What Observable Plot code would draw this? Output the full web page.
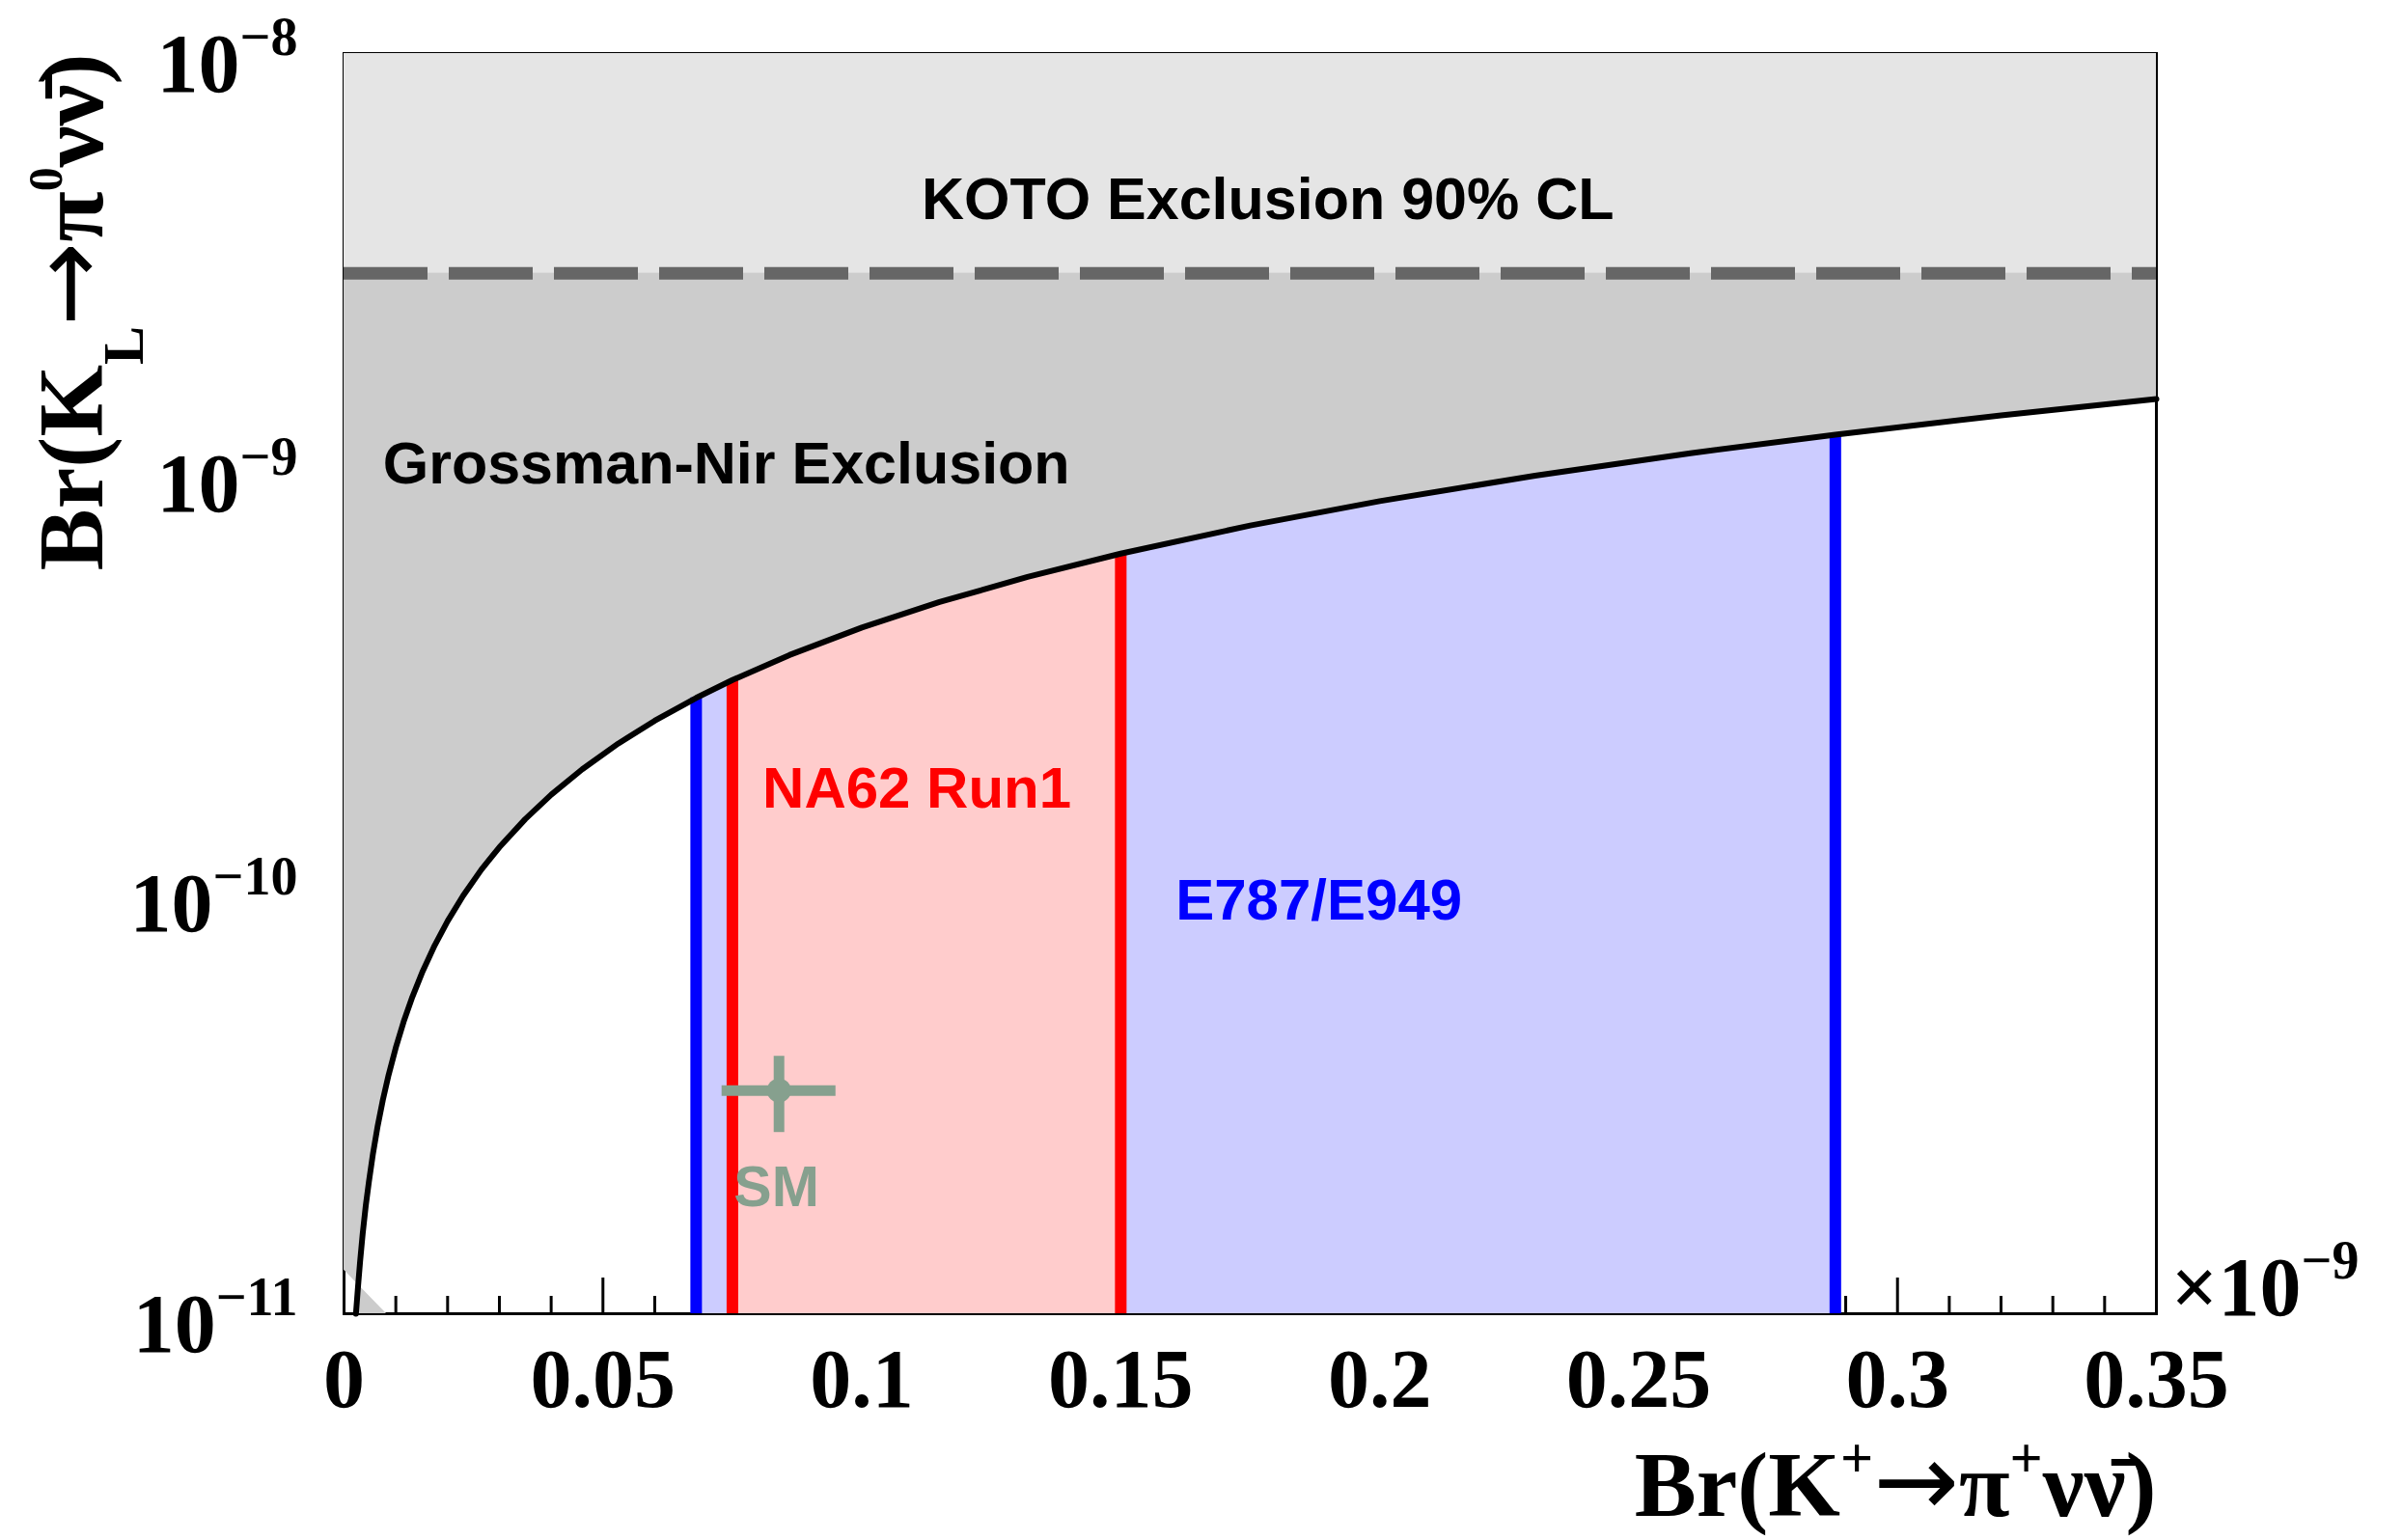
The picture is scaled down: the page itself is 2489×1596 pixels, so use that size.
<!DOCTYPE html>
<html>
<head>
<meta charset="utf-8">
<script src="https://cdn.jsdelivr.net/npm/d3@7"></script>
<script src="https://cdn.jsdelivr.net/npm/@observablehq/plot@0.6"></script>
<style>
  html, body { margin: 0; padding: 0; background: #fff; }
  svg { display: block; }
</style>
</head>
<body>
<div id="chart"></div>
<script>
// Both branching ratios in units of 1e-9.
const xDomain = [0, 0.35];
const yDomain = [0.01, 10];

// Grossman–Nir bound, Br(KL) vs Br(K+)
const curveX = [0.0023, 0.0027, 0.0031, 0.0036, 0.0042, 0.0048, 0.0056, 0.0065, 0.0075, 0.0086,
  0.01, 0.0115, 0.0132, 0.0152, 0.0175, 0.02, 0.023, 0.0265, 0.03, 0.035, 0.04, 0.046, 0.053,
  0.06, 0.068, 0.075, 0.086, 0.1, 0.115, 0.132, 0.15, 0.175, 0.2, 0.23, 0.26, 0.288, 0.32, 0.35];
const curveY = [0.0100, 0.0116, 0.0133, 0.0155, 0.0181, 0.0206, 0.0241, 0.0280, 0.0323, 0.0370,
  0.0430, 0.0495, 0.0568, 0.0654, 0.0753, 0.0860, 0.0989, 0.1140, 0.1290, 0.1505, 0.1720, 0.1978,
  0.2279, 0.2580, 0.2924, 0.3225, 0.3698, 0.4300, 0.4945, 0.5676, 0.6450, 0.7525, 0.8600, 0.9890,
  1.1180, 1.2384, 1.3760, 1.5050];

// closing edge of the excluded-region polygon near the origin
const gnClosureX = [0, 0.0082];
const gnClosureY = [0.0127, 0.01];

// KOTO 90% CL upper limit on Br(KL)
const kotoLimit = 3.0;

// Br(K+) intervals
const e787Edges = [0.068, 0.288];
const na62Edges = [0.075, 0.15];

// Standard Model prediction
const smX = [0.084];
const smY = [0.034];
const smXErr = [0.011];
const smYErr = [0.007];

// axis ticks and their labels
const xTickValues = [0, 0.05, 0.1, 0.15, 0.2, 0.25, 0.3, 0.35];
const xTickLabels = ["0", "0.05", "0.1", "0.15", "0.2", "0.25", "0.3", "0.35"];
const yTickValues = [0.01, 0.1, 1, 10];
const yTickLabels = ["10^{\u221211}", "10^{\u221210}", "10^{\u22129}", "10^{\u22128}"];
const yMinorTicks = [0.02, 0.03, 0.04, 0.05, 0.06, 0.07, 0.08, 0.09,
  0.2, 0.3, 0.4, 0.5, 0.6, 0.7, 0.8, 0.9, 2, 3, 4, 5, 6, 7, 8, 9];
const xMinorTicks = d3.range(1, 36).map(k => k / 100).filter(v => Math.round(v * 100) % 5 !== 0);

// axis titles and the x multiplier: ^{..} raised, _{..} lowered, ~{..} symbol glyph
const xTitle = "Br(K^{+}~{\u2192}\u03c0^{+}\u03bd\u03bd\u0304)";
const yTitle = "Br(K_{L}~{\u2192}\u03c0^{0}\u03bd\u03bd\u0304)";
const xMultiplier = "\u00d710^{\u22129}";

// ---------------------------------------------------------------------------
const W = 2489, H = 1596;
const M = {left: 356, right: 255, top: 55, bottom: 235};
const frameW = W - M.left - M.right;
const frameH = H - M.top - M.bottom;
const yBottom = yDomain[0], yTop = yDomain[1];

const serif = "'Liberation Serif', 'Times New Roman', Times, serif";
const sans = "'Liberation Sans', Arial, Helvetica, sans-serif";
const symbolFont = "'DejaVu Sans', sans-serif";
const smColor = "#86a08e";

const curveIdx = d3.range(curveX.length);
const topAt = x => curveY[curveX.indexOf(x)];
const between = ([a, b]) => curveIdx.filter(i => curveX[i] >= a && curveX[i] <= b);

// excluded region: forward along the bound, back along the top edge
const n = curveX.length;
const gnIdx = d3.range(n + 1);
const gnX1 = [gnClosureX[1], ...curveX];
const gnY1 = [gnClosureY[1], ...curveY];
const gnX2 = gnIdx.map(i => i === 0 ? gnClosureX[0] : i === n ? xDomain[1] : xDomain[0]);
const gnY2 = gnIdx.map(i => i === 0 ? gnClosureY[0] : yTop);

const smIdx = d3.range(smX.length);

const chart = Plot.plot({
  width: W,
  height: H,
  marginLeft: M.left,
  marginRight: M.right,
  marginTop: M.top,
  marginBottom: M.bottom,
  x: {domain: xDomain, axis: null},
  y: {type: "log", domain: yDomain, axis: null},
  style: {background: "white"},
  marks: [
    // inward ticks
    Plot.ruleX(xMinorTicks, {x: d => d, insetTop: frameH - 18, stroke: "black", strokeWidth: 3}),
    Plot.ruleX(xTickValues, {x: d => d, insetTop: frameH - 37, stroke: "black", strokeWidth: 3}),
    Plot.ruleY(yMinorTicks, {y: d => d, insetRight: frameW - 28, stroke: "black", strokeWidth: 3}),
    Plot.ruleY(yTickValues, {y: d => d, insetRight: frameW - 56, stroke: "black", strokeWidth: 3}),
    Plot.frame({stroke: "black", strokeWidth: 3}),

    // Grossman–Nir excluded region
    Plot.area(gnIdx, {
      x1: i => gnX1[i], y1: i => gnY1[i], x2: i => gnX2[i], y2: i => gnY2[i],
      fill: "#cccccc", curve: "linear"
    }),
    // KOTO excluded region
    Plot.rect([kotoLimit], {x1: xDomain[0], x2: xDomain[1], y1: d => d, y2: yTop, fill: "#e5e5e5"}),

    // allowed bands
    Plot.areaY(between(e787Edges), {x: i => curveX[i], y1: yBottom, y2: i => curveY[i], fill: "#ccccff", curve: "linear"}),
    Plot.areaY(between(na62Edges), {x: i => curveX[i], y1: yBottom, y2: i => curveY[i], fill: "#ffcccc", curve: "linear"}),
    Plot.ruleX(e787Edges, {x: d => d, y1: yBottom, y2: d => topAt(d), stroke: "#0000ff", strokeWidth: 12}),
    Plot.ruleX(na62Edges, {x: d => d, y1: yBottom, y2: d => topAt(d), stroke: "#ff0000", strokeWidth: 12}),

    // the bound itself
    Plot.line(curveIdx, {x: i => curveX[i], y: i => curveY[i], stroke: "black", strokeWidth: 6, curve: "linear"}),

    // KOTO limit
    Plot.ruleY([kotoLimit], {y: d => d, stroke: "#666666", strokeWidth: 13, strokeDasharray: "87 22"}),

    // region labels
    Plot.text(["KOTO Exclusion 90% CL"], {x: 0.1784, y: 4.03, textAnchor: "middle", lineAnchor: "bottom",
      fontSize: 61, fontFamily: sans, fontWeight: "bold", fill: "black"}),
    Plot.text(["Grossman-Nir Exclusion"], {x: 0.0075, y: 0.947, textAnchor: "start", lineAnchor: "bottom",
      fontSize: 61, fontFamily: sans, fontWeight: "bold", fill: "black"}),
    Plot.text(["NA62 Run1"], {x: 0.0808, y: 0.160, textAnchor: "start", lineAnchor: "bottom",
      fontSize: 60, fontFamily: sans, fontWeight: "bold", fill: "#ff0000"}),
    Plot.text(["E787/E949"], {x: 0.1606, y: 0.0867, textAnchor: "start", lineAnchor: "bottom",
      fontSize: 60, fontFamily: sans, fontWeight: "bold", fill: "#0000ff"}),

    // Standard Model point
    Plot.ruleY(smIdx, {y: i => smY[i], x1: i => smX[i] - smXErr[i], x2: i => smX[i] + smXErr[i], stroke: smColor, strokeWidth: 11}),
    Plot.ruleX(smIdx, {x: i => smX[i], y1: i => smY[i] - smYErr[i], y2: i => smY[i] + smYErr[i], stroke: smColor, strokeWidth: 11}),
    Plot.dot(smIdx, {x: i => smX[i], y: i => smY[i], r: 12.5, fill: smColor, stroke: "none"}),
    Plot.text(["SM"], {x: 0.0835, y: 0.018, textAnchor: "middle", lineAnchor: "bottom",
      fontSize: 59, fontFamily: sans, fontWeight: "bold", fill: smColor}),

    // tick labels
    Plot.text(xTickValues, {x: d => d, text: (d, i) => xTickLabels[i], frameAnchor: "bottom", lineAnchor: "top",
      dy: 35, fontSize: 86, fontFamily: serif, fontWeight: "bold", fill: "black"}),
    Plot.text(yTickValues, {y: d => d, text: (d, i) => yTickLabels[i], frameAnchor: "left", textAnchor: "end",
      lineAnchor: "bottom", dx: -48, dy: 39, fontSize: 86, fontFamily: serif, fontWeight: "bold", fill: "black"}),
    Plot.text([xMultiplier], {frameAnchor: "bottom-right", textAnchor: "start", lineAnchor: "bottom",
      dx: 15, dy: 1, fontSize: 86, fontFamily: serif, fontWeight: "bold", fill: "black"}),

    // axis titles
    Plot.text([xTitle], {frameAnchor: "bottom-right", textAnchor: "end",
      lineAnchor: "bottom", dy: 209, fontSize: 96, fontFamily: serif, fontWeight: "bold", fill: "black"}),
    Plot.text([yTitle], {frameAnchor: "top-left", rotate: -90, textAnchor: "end",
      lineAnchor: "bottom", dx: 105 - M.left, dy: 0, fontSize: 96, fontFamily: serif, fontWeight: "bold", fill: "black"})
  ]
});

// Turn ^{...}, _{...} and ~{...} in the labels into styled tspans.
const svgNS = "http://www.w3.org/2000/svg";
function richText(el, sup, sub, sym) {
  const src = el.textContent;
  const re = /([_^~])\{([^}]*)\}/g;
  const parts = [];
  let last = 0, m;
  while ((m = re.exec(src))) {
    if (m.index > last) parts.push({t: src.slice(last, m.index), k: ""});
    parts.push({t: m[2], k: m[1]});
    last = re.lastIndex;
  }
  if (last < src.length) parts.push({t: src.slice(last), k: ""});
  el.textContent = "";
  let offset = 0;
  for (const p of parts) {
    const ts = document.createElementNS(svgNS, "tspan");
    const target = p.k === "^" ? -sup.shift : p.k === "_" ? sub.shift : 0;
    if (target !== offset) ts.setAttribute("dy", target - offset);
    offset = target;
    if (p.k === "^") ts.setAttribute("font-size", sup.size);
    if (p.k === "_") ts.setAttribute("font-size", sub.size);
    if (p.k === "~") {
      ts.setAttribute("font-size", sym.size);
      ts.setAttribute("font-family", symbolFont);
      ts.setAttribute("font-weight", "normal");
    }
    ts.textContent = p.t;
    el.appendChild(ts);
  }
}
chart.querySelectorAll("text").forEach(el => {
  const s = el.textContent;
  if (!/[_^~]\{/.test(s)) return;
  if (s === xTitle) richText(el, {size: 60, shift: 40}, {size: 60, shift: 42}, {size: 106});
  else if (s === yTitle) richText(el, {size: 50, shift: 42}, {size: 60, shift: 42}, {size: 104});
  else richText(el, {size: 56, shift: 38}, {size: 56, shift: 20}, {size: 86});
});

document.getElementById("chart").appendChild(chart);
</script>
</body>
</html>
